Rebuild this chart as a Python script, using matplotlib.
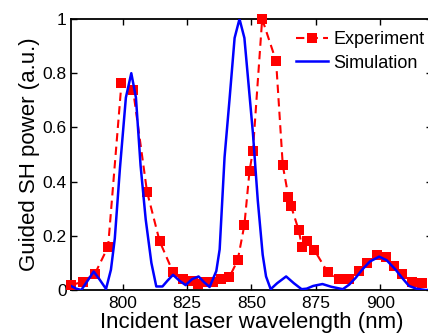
import matplotlib
matplotlib.use("Agg")
import matplotlib.pyplot as plt
from matplotlib.ticker import FixedLocator, FuncFormatter

plt.rcParams['font.family'] = ['Liberation Sans', 'DejaVu Sans']

# Experiment data (wavelength nm, normalized SH power)
exp_wl = [780, 784.5, 789.3, 794.4, 799.6, 804.1, 809.5, 814.4, 819.6, 823.5,
          827.3, 829.3, 832.5, 835.1, 838.3, 841.5, 844.7, 847.3, 849.3, 850.6,
          854.2, 859.6, 862.2, 864.4, 865.4, 868.4, 869.7, 871.6, 874.4, 879.6,
          884.0, 888.0, 891.8, 895.0, 898.9, 902.2, 905.4, 908.6, 912.5, 916.4]
exp_val = [0.018, 0.03, 0.06, 0.16, 0.765, 0.738, 0.363, 0.18, 0.066, 0.042,
           0.035, 0.022, 0.028, 0.03, 0.042, 0.048, 0.11, 0.24, 0.44, 0.513,
           1.0, 0.845, 0.46, 0.344, 0.31, 0.22, 0.158, 0.18, 0.148, 0.066,
           0.04, 0.042, 0.07, 0.1, 0.128, 0.122, 0.09, 0.058, 0.03, 0.025]

# Simulation data
sim_wl = [780, 782, 784, 786.5, 788.8, 791, 793.6, 795.5, 797, 799, 801.3, 803.4,
          805.2, 807, 809, 811.2, 813.1, 815.5, 817.5, 819.6, 822, 824.5, 827,
          829.5, 831.5, 833.8, 836.4, 837.7, 839.6, 841.5, 843.5, 845.4, 847.3,
          849, 850.6, 852.5, 854.4, 855.7, 857.5, 860, 863.5, 866.5, 869.5,
          871.5, 874, 877.6, 881, 885.5, 888, 890.5, 893, 896, 899.6, 902.5,
          906, 908.5, 911.2, 914, 917.6, 920]
sim_val = [0.015, 0.005, 0.0, 0.035, 0.068, 0.04, 0.004, 0.075, 0.19, 0.45, 0.71, 0.80,
           0.71, 0.46, 0.26, 0.10, 0.013, 0.013, 0.035, 0.056, 0.035, 0.018, 0.04,
           0.05, 0.03, 0.011, 0.07, 0.15, 0.49, 0.70, 0.93, 1.0, 0.93,
           0.75, 0.58, 0.33, 0.13, 0.05, 0.003, 0.025, 0.05, 0.025, 0.003,
           0.005, 0.015, 0.022, 0.012, 0.003, 0.02, 0.045, 0.075, 0.105, 0.123, 0.11,
           0.075, 0.045, 0.015, 0.005, 0.0, 0.0]

x_ticks = [800, 825, 850, 875, 900]
y_ticks = [0, 0.2, 0.4, 0.6, 0.8, 1]

W, H = 428, 335
fig = plt.figure(figsize=(W / 100, H / 100), dpi=100)
ax = fig.add_axes([71 / W, 45 / H, (431.7 - 71) / W, 271 / H])

ax.plot(exp_wl, exp_val, color=(1, 0, 0), linestyle=(0, (4, 2.5)), linewidth=1.5,
        marker='s', markersize=7.5, markeredgewidth=0, clip_on=False, label='Experiment', zorder=3)
ax.plot(sim_wl, sim_val, color=(0, 0, 1), linewidth=1.8, label='Simulation', zorder=4)

ax.set_xlim(780, 920)
ax.set_ylim(0, 1)
ax.xaxis.set_major_locator(FixedLocator(x_ticks))
ax.yaxis.set_major_locator(FixedLocator(y_ticks))
ax.yaxis.set_major_formatter(FuncFormatter(lambda v, p: ('%g' % v)))
ax.tick_params(direction='in', length=4, width=1, labelsize=12.5, top=True, right=True, pad=4)
ax.tick_params(axis='y', pad=3)
for s in ax.spines.values():
    s.set_linewidth(1.3)

ax.set_xlabel('Incident laser wavelength (nm)', fontsize=16, labelpad=1)
ax.set_ylabel('Guided SH power (a.u.)', fontsize=16, labelpad=2)

ax.legend(loc='upper left', bbox_to_anchor=(0.623, 0.955), frameon=False, fontsize=13,
          borderpad=0, borderaxespad=0, handlelength=1.8, handletextpad=0.3, labelspacing=0.35)

fig.savefig('out.png', dpi=100)
